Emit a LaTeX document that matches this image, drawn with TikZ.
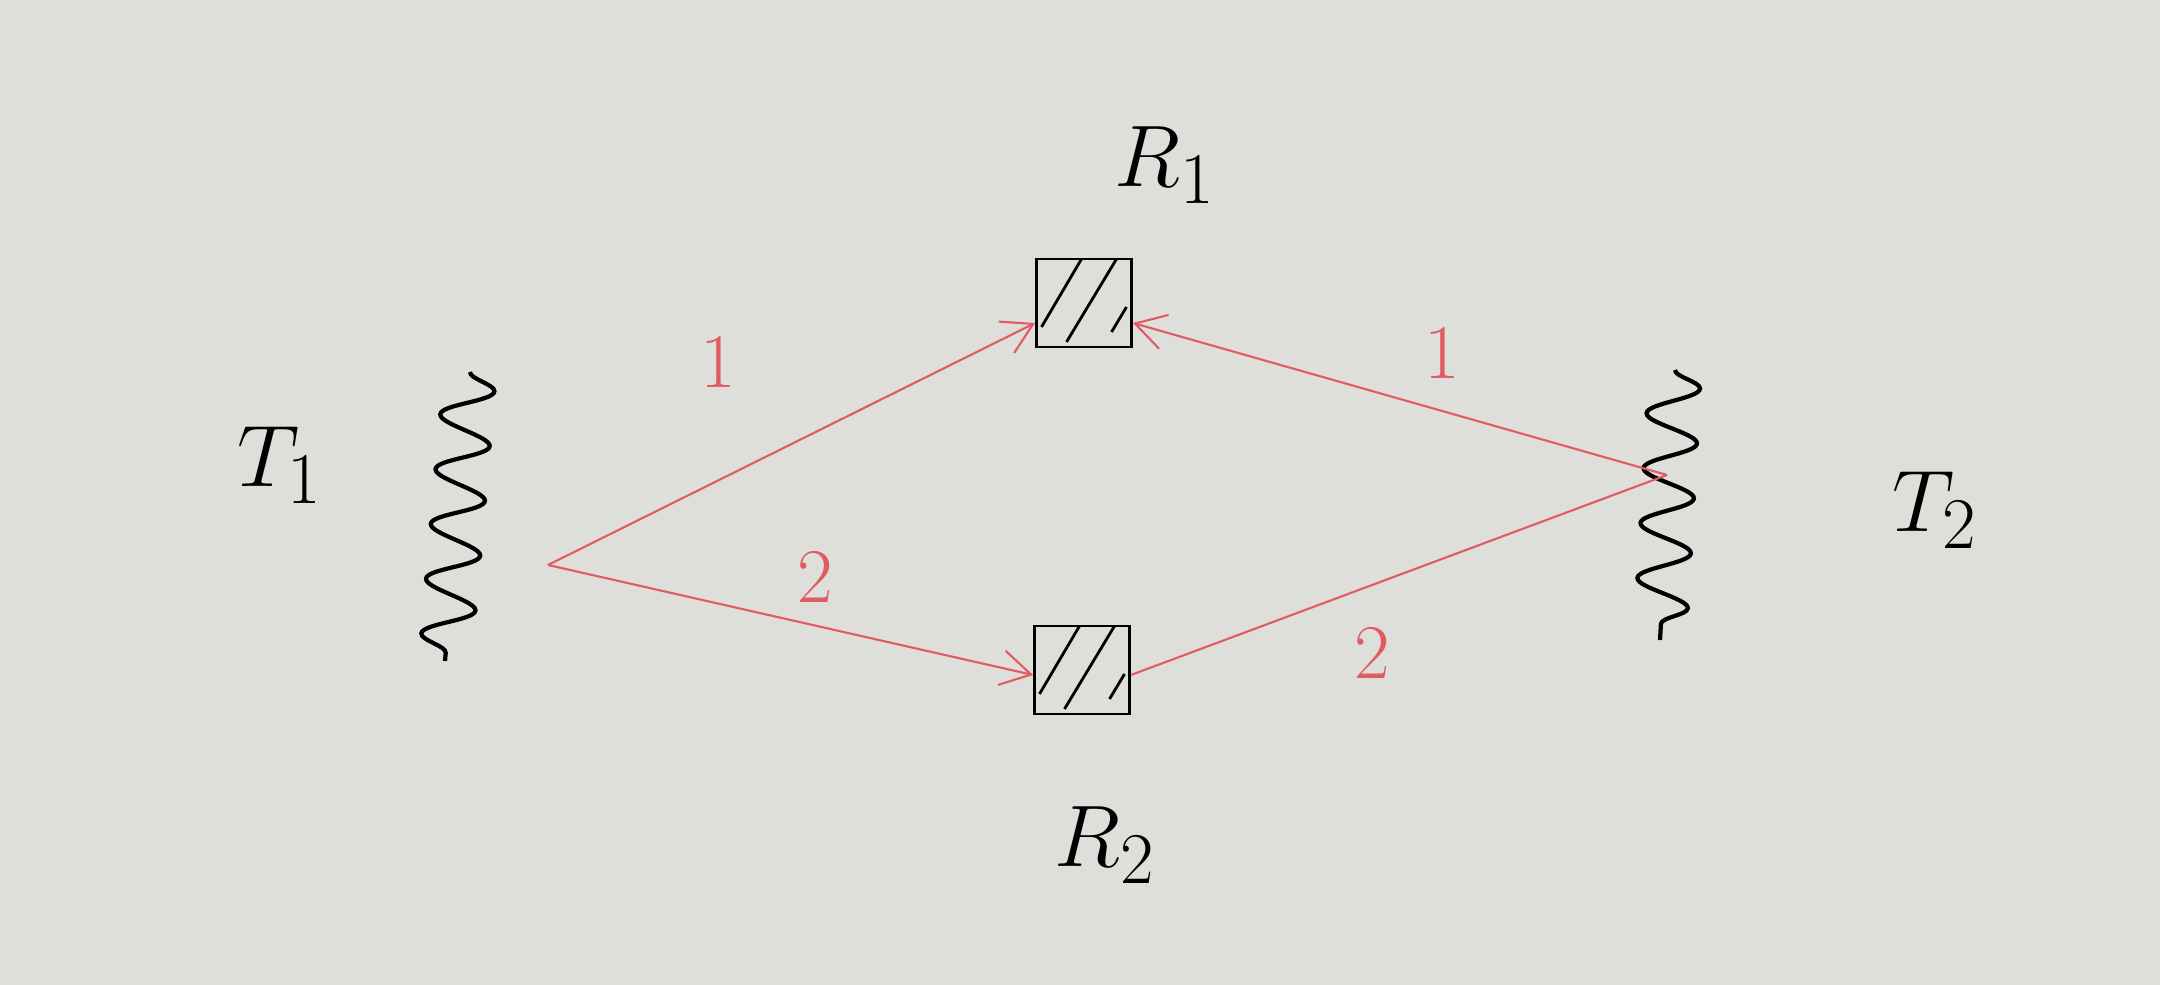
\documentclass[tikz,border=0pt]{standalone}
\usepackage{tikz}
\usepackage{xcolor}
\usetikzlibrary{arrows.meta, positioning, decorations.pathmorphing, calc}
\definecolor{paper}{rgb}{0.87,0.87,0.86}
\definecolor{penred}{rgb}{0.88,0.36,0.38}
\tikzset{
    rxBox/.style={draw=black, thick, minimum width=9.5mm, minimum height=8.8mm, inner sep=0pt,
        path picture={
            \draw[thick] ($(path picture bounding box.south west)+(0.05,0.2)$) -- ($(path picture bounding box.north west)+(0.45,0)$);
            \draw[thick] ($(path picture bounding box.south west)+(0.3,0.05)$) -- ($(path picture bounding box.north west)+(0.8,0)$);
            \draw[thick] ($(path picture bounding box.south east)+(-0.2,0.15)$) -- ($(path picture bounding box.south east)+(-0.05,0.4)$);
        }},
    txWave/.style={draw=black, very thick, decorate, decoration={snake, segment length=5.5mm, amplitude=2.6mm}},
    ray/.style={draw=penred, semithick},
    bigLbl/.style={font=\fontsize{28}{34}\selectfont},
    rayLbl/.style={text=penred, font=\fontsize{22}{26}\selectfont}
}

\begin{document}
\begin{tikzpicture}[>={Straight Barb[length=3mm, width=3.5mm]}]
    \fill[paper] (0,0) rectangle (21.6,9.85);
    \useasboundingbox (0,0) rectangle (21.6,9.85);
    % receivers
    \node[rxBox] (rx1) at (10.84,6.82) {};
    \node[rxBox] (rx2) at (10.82,3.15) {};
    \node[bigLbl] (rx1lbl) at (11.65,8.2) {$R_1$};
    \node[bigLbl] (rx2lbl) at (11.05,1.4) {$R_2$};
    % transmitters
    \coordinate (tx1top) at (4.7,6.13);  \coordinate (tx1bot) at (4.45,3.24);
    \coordinate (tx2top) at (16.75,6.15); \coordinate (tx2bot) at (16.6,3.45);
    \draw[txWave] (tx1top) -- (tx1bot);
    \draw[txWave] (tx2top) -- (tx2bot);
    \node[bigLbl] (tx1lbl) at (2.8,5.2) {$T_1$};
    \node[bigLbl] (tx2lbl) at (19.35,4.75) {$T_2$};
    \coordinate (tx1) at (5.48,4.2);
    \coordinate (tx2) at (16.67,5.1);
    % rays
    \draw[ray,->] (tx1) -- ([yshift=-2mm]rx1.west) node[rayLbl, pos=0.35, above=8mm] (l11) {1};
    \draw[ray,->] (tx1) -- ([yshift=-0.5mm]rx2.west) node[rayLbl, pos=0.55, above=1mm] (l12) {2};
    \draw[ray,->] (tx2) -- ([yshift=-2mm]rx1.east) node[rayLbl, pos=0.42, above=2mm] (l21) {1};
    \draw[ray] (tx2) -- ([yshift=-0.5mm]rx2.east) node[rayLbl, pos=0.55, below=3mm] (l22) {2};
\end{tikzpicture}
\end{document}
